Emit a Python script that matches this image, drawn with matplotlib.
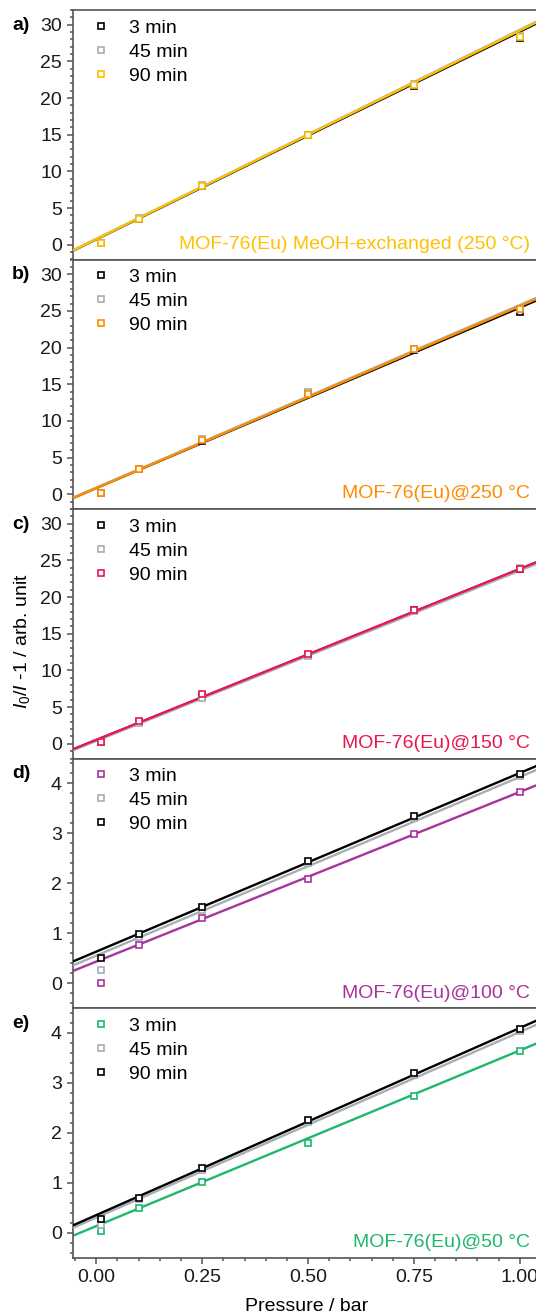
import numpy as np
import matplotlib
matplotlib.use("Agg")
import matplotlib.pyplot as plt
from matplotlib.ticker import MultipleLocator

plt.rcParams['font.family'] = ['Liberation Sans', 'DejaVu Sans']
plt.rcParams['mathtext.fontset'] = 'custom'
plt.rcParams['mathtext.rm'] = 'Liberation Sans'
plt.rcParams['mathtext.it'] = 'Liberation Sans:italic'

# ---------------- data ----------------
pressure = [0.01, 0.10, 0.25, 0.50, 0.75, 1.00]
labels_time = ["3 min", "45 min", "90 min"]
panel_letters = ["a)", "b)", "c)", "d)", "e)"]
panel_titles = ["MOF-76(Eu) MeOH-exchanged (250 °C)", "MOF-76(Eu)@250 °C",
                "MOF-76(Eu)@150 °C", "MOF-76(Eu)@100 °C", "MOF-76(Eu)@50 °C"]
panel_colors = ["#FFC000", "#FF8C00", "#E8174F", "#A8339B", "#1DB86B"]

# panel a
a_3 = [0.3, 3.5, 8.0, 14.9, 21.7, 28.2]
a_45 = [0.3, 3.6, 8.1, 15.0, 21.9, 28.5]
a_90 = [0.3, 3.5, 8.0, 14.9, 21.8, 28.3]
a_slope = [28.3, 28.5, 28.4]
a_icpt = [0.75, 0.80, 0.80]
# panel b
b_3 = [0.2, 3.4, 7.3, 13.8, 19.7, 24.9]
b_45 = [0.2, 3.5, 7.6, 14.0, 19.8, 25.3]
b_90 = [0.2, 3.4, 7.4, 13.7, 19.8, 25.2]
b_slope = [24.6, 24.9, 24.8]
b_icpt = [0.85, 0.90, 0.85]
# panel c
c_3 = [0.2, 3.0, 6.5, 12.1, 18.2, 23.8]
c_45 = [0.2, 2.9, 6.3, 12.0, 18.1, 23.9]
c_90 = [0.2, 3.1, 6.8, 12.2, 18.3, 23.8]
c_slope = [23.3, 23.2, 23.3]
c_icpt = [0.50, 0.40, 0.55]
# panel d
d_3 = [0.00, 0.76, 1.30, 2.08, 2.98, 3.83]
d_45 = [0.27, 0.93, 1.47, 2.40, 3.30, 4.15]
d_90 = [0.51, 0.98, 1.52, 2.44, 3.34, 4.19]
d_slope = [3.40, 3.58, 3.58]
d_icpt = [0.43, 0.55, 0.63]
# panel e
e_3 = [0.03, 0.50, 1.01, 1.79, 2.74, 3.64]
e_45 = [0.15, 0.67, 1.26, 2.22, 3.15, 4.04]
e_90 = [0.27, 0.69, 1.29, 2.25, 3.19, 4.07]
e_slope = [3.52, 3.72, 3.75]
e_icpt = [0.13, 0.30, 0.35]

series = [(a_3, a_45, a_90), (b_3, b_45, b_90), (c_3, c_45, c_90),
          (d_3, d_45, d_90), (e_3, e_45, e_90)]
slopes = [a_slope, b_slope, c_slope, d_slope, e_slope]
icpts = [a_icpt, b_icpt, c_icpt, d_icpt, e_icpt]

GRAY = "#A6AFB5"
BLACK = "#000000"
SPINE = "#555555"

W, H = 536, 1316
fig = plt.figure(figsize=(W / 100, H / 100), dpi=100)

left_px, right_px = 73, 541
top_px = 10
panel_h = 249.5

for i in range(5):
    y_top = top_px + i * panel_h
    ax = fig.add_axes([left_px / W, 1 - (y_top + panel_h) / H,
                       (right_px - left_px) / W, panel_h / H])
    ax.set_xlim(-0.055, 1.05)
    if i < 3:
        ax.set_ylim(-2, 32)
        ax.yaxis.set_major_locator(MultipleLocator(5))
        ax.yaxis.set_minor_locator(MultipleLocator(1))
        cols = [BLACK, GRAY, panel_colors[i]]
    else:
        ax.set_ylim(-0.5, 4.5)
        ax.yaxis.set_major_locator(MultipleLocator(1))
        ax.yaxis.set_minor_locator(MultipleLocator(0.2))
        cols = [panel_colors[i], GRAY, BLACK]
    ax.xaxis.set_major_locator(MultipleLocator(0.25))
    ax.xaxis.set_minor_locator(MultipleLocator(0.05))
    ax.xaxis.set_major_formatter(matplotlib.ticker.FormatStrFormatter('%.2f'))

    xl = np.array(ax.get_xlim())
    handles = []
    for j in range(3):
        ax.plot(xl, slopes[i][j] * xl + icpts[i][j], color=cols[j], lw=1.7,
                zorder=2 + j, solid_capstyle='butt')
    for j in range(3):
        h, = ax.plot(pressure, series[i][j], ls='none', marker='s', ms=4.3,
                     mfc='white', mec=cols[j], mew=1.2, zorder=6 + j,
                     label=labels_time[j])
        handles.append(h)
    ax.legend(handles=handles, loc='upper left', frameon=False,
              fontsize=14, handlelength=0.6, handletextpad=1.15,
              labelspacing=0.33, borderaxespad=0.0,
              bbox_to_anchor=(0.03, 0.995))

    for s in ax.spines.values():
        s.set_color(SPINE)
        s.set_linewidth(1.2)
    ax.tick_params(which='both', direction='out', colors=SPINE,
                   labelcolor='#1a1a1a', labelsize=14, width=1.1)
    ax.tick_params(which='major', length=4.5)
    ax.tick_params(which='minor', length=2.5)
    ax.tick_params(axis='x', which='both', top=False)
    ax.tick_params(axis='y', which='both', right=False)
    if i < 4:
        ax.tick_params(axis='x', labelbottom=False)
    else:
        ax.set_xlabel("Pressure / bar", fontsize=14, labelpad=9)

    fig.text(12 / W, 1 - (y_top + 15) / H, panel_letters[i], fontsize=14,
             fontweight='bold', ha='left', va='center')
    fig.text(530 / W, 1 - (y_top + panel_h - 15) / H, panel_titles[i],
             color=panel_colors[i], fontsize=14, ha='right', va='center')

fig.text(22 / W, 1 - 641 / H, r"$I_0$/$I$ -1 / arb. unit", rotation=90,
         fontsize=14, ha='center', va='center')

fig.savefig("out.png", dpi=100)
